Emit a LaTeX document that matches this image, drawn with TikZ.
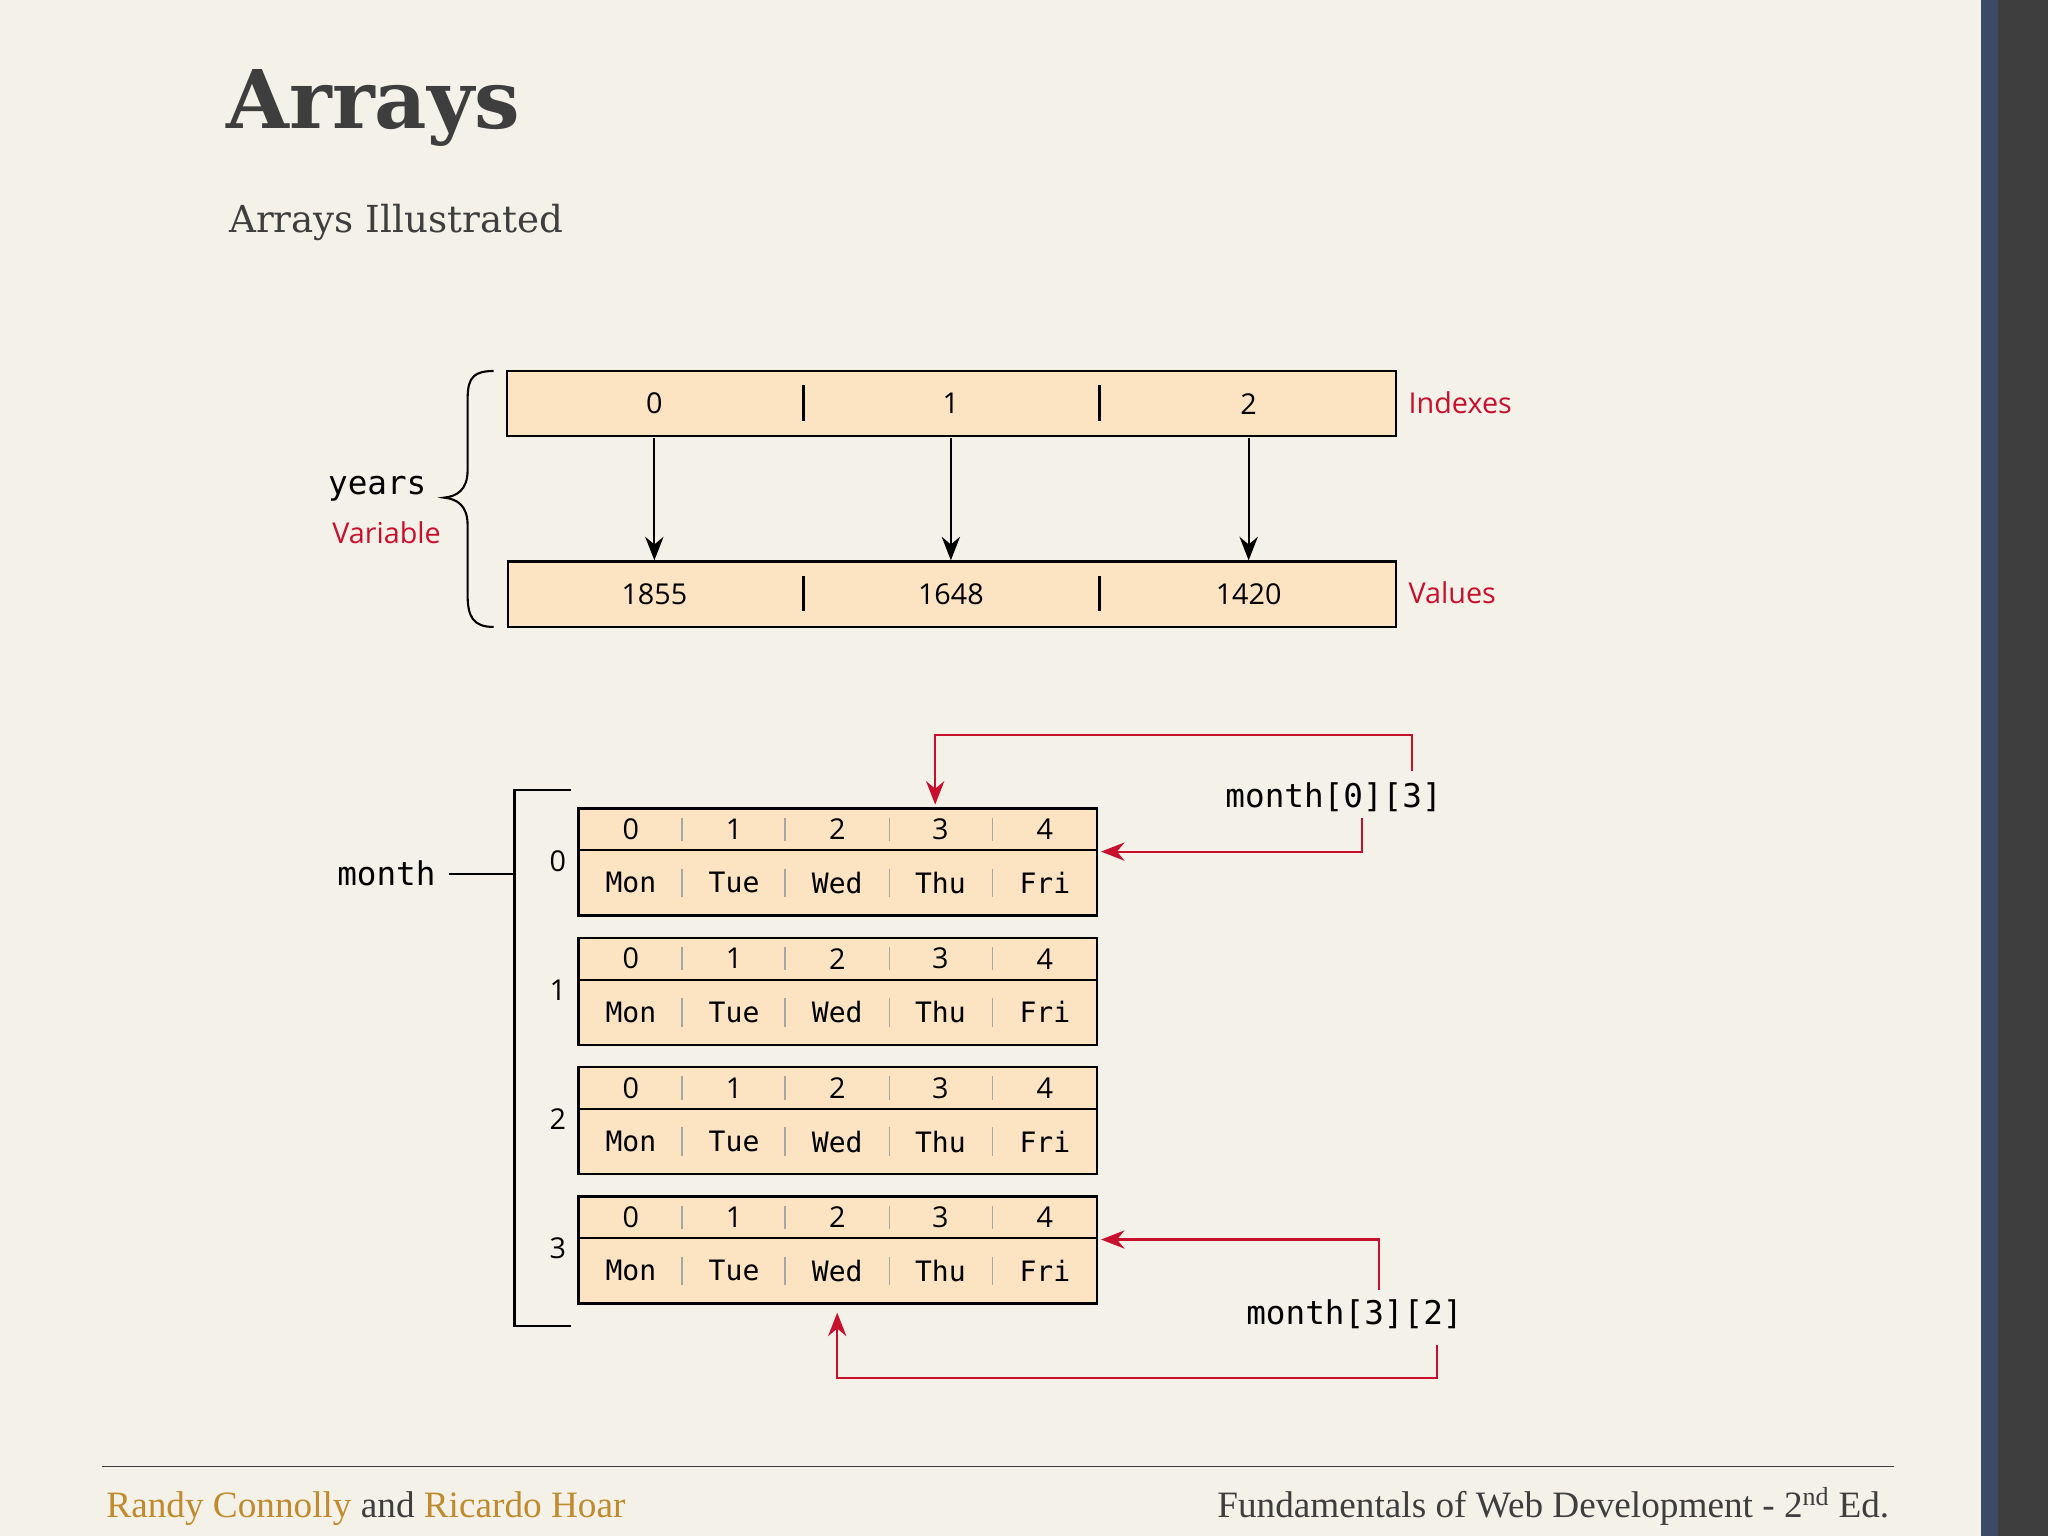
\documentclass[tikz,border=0pt]{standalone}
\usepackage{fontspec}
\setmainfont{DejaVu Serif}
\setsansfont{Open Sans}
\setmonofont{DejaVu Sans Mono}
\newfontfamily\footfont{Liberation Serif}
\usetikzlibrary{arrows.meta}
\definecolor{bg}{HTML}{F4F2E8}
\definecolor{cell}{HTML}{FCE3C2}
\definecolor{myred}{HTML}{C8102E}
\definecolor{gold}{HTML}{C08A2E}
\definecolor{titlec}{HTML}{3E3E3E}
\definecolor{stripe}{HTML}{3C4A66}
\tikzset{
 box/.style={draw=black,line width=1.8pt,fill=cell},
 arr/.style={line width=1.6pt,-{Stealth[length=18pt,width=14pt]}},
 rarr/.style={draw=myred,line width=1.6pt,-{Stealth[length=18pt,width=14pt]}},
 lbl/.style={font=\sffamily\fontsize{22}{25}\selectfont},
 rlbl/.style={font=\sffamily\fontsize{22}{25}\selectfont,text=myred},
 mono/.style={font=\ttfamily\fontsize{25}{29}\selectfont},
 cmono/.style={font=\ttfamily\fontsize{21.5}{24}\selectfont},
}
\begin{document}
\begin{tikzpicture}[x=1pt,y=-1pt]
\fill[bg] (0,0) rectangle (1568,1176);
\fill[titlec] (1517,0) rectangle (1568,1176);
\fill[stripe] (1517,0) rectangle (1530,1176);
\node[anchor=base west,text=titlec,font=\bfseries\fontsize{62}{70}\selectfont] (title) at (170,98) {Arrays};
\node[anchor=base west,text=titlec,font=\fontsize{28.5}{32}\selectfont] (sub) at (172,178) {Arrays Illustrated};
% top array
\draw[box] (388,284) rectangle (1069,334);
\draw[box] (389,430) rectangle (1069,480);
\foreach \x in {615,842}{\draw[line width=2pt] (\x,295)--(\x,322); \draw[line width=2pt] (\x,441)--(\x,468);}
\foreach \x/\i/\v in {501/0/1855,728/1/1648,956/2/1420}{
 \node[lbl] (i\i) at (\x,309) {\i};
 \node[lbl] (v\i) at (\x,455) {\v};
 \coordinate (s\i) at (\x,335);
 \coordinate (e\i) at (\x,429);
 \draw[arr] (s\i)--(e\i);}
\node[rlbl,anchor=west] (idx) at (1075,308) {Indexes};
\node[rlbl,anchor=west] (val) at (1075,454) {Values};
\draw[line width=1.6pt] (378,284) .. controls (358,284) and (358,294) .. (358,310) -- (358,360) .. controls (358,375) and (350,380) .. (340,381) .. controls (350,382) and (358,387) .. (358,402) -- (358,455) .. controls (358,472) and (362,480) .. (378,480);
\node[mono,anchor=east] (years) at (330,374) {years};
\node[rlbl,anchor=east] (var) at (341,408) {Variable};
% month
\draw[line width=1.8pt] (437,605)--(394,605)--(394,1015)--(437,1015);
\node[mono,anchor=east] (month) at (337,669) {month};
\draw[line width=1.6pt] (344,669) -- (394,669);
\foreach \r/\y in {0/619,1/718,2/817,3/916}{
 \draw[box] (443,\y) rectangle (840,\y+82);
 \draw[line width=1.6pt] (443,\y+32)--(840,\y+32);
 \node[lbl] (r\r) at (427,\y+40) {\r};
 \foreach \x in {522,601,681,760}{
  \draw[gray!70,line width=1.2pt] (\x,\y+7)--(\x,\y+25);
  \draw[gray!70,line width=1.2pt] (\x,\y+46)--(\x,\y+68);}
 \foreach \x/\c/\d in {483/0/Mon,562/1/Tue,641/2/Wed,720/3/Thu,800/4/Fri}{
  \node[lbl] (c\r\c) at (\x,\y+16) {\c};
  \node[cmono] (d\r\c) at (\x,\y+57) {\d};}
}
\node[mono] (m03) at (1021,610) {month[0][3]};
\node[mono] (m32) at (1037,1006) {month[3][2]};
\draw[rarr] (1081,590)--(1081,563)--(716,563)--(716,616);
\draw[rarr] (1043,626)--(1043,652)--(843,652);
\draw[rarr] (1056,988)--(1056,949)--(843,949);
\draw[rarr] (1100,1030)--(1100,1055)--(641,1055)--(641,1005);
% footer
\draw[line width=1pt,titlec] (78,1123)--(1450,1123);
\node[anchor=base west,font=\footfont\fontsize{28.5}{30}\selectfont] (auth) at (78,1162) {\textcolor{gold}{Randy Connolly} \textcolor{titlec}{and} \textcolor{gold}{Ricardo Hoar}};
\node[anchor=base east,text=titlec,font=\footfont\fontsize{28.5}{30}\selectfont] (book) at (1450,1162) {Fundamentals of Web Development - 2\textsuperscript{nd} Ed.};
\end{tikzpicture}
\end{document}
